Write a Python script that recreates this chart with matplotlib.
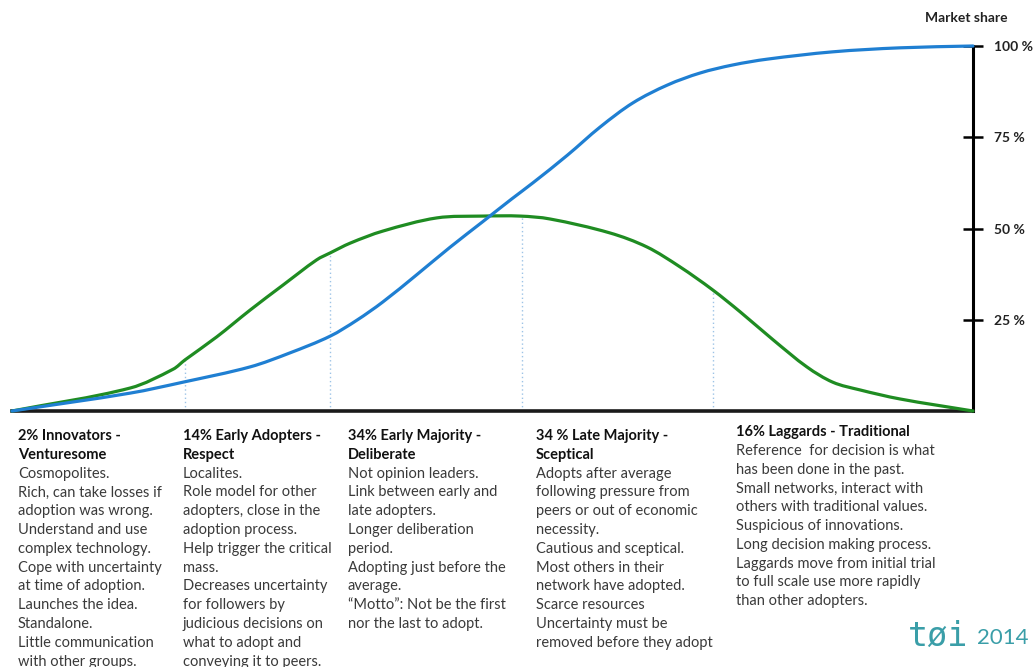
import numpy as np
import matplotlib
matplotlib.use("Agg")
import matplotlib.pyplot as plt
from matplotlib.path import Path
from matplotlib.patches import PathPatch

plt.rcParams['font.family'] = ['Lato', 'DejaVu Sans']

# time axis runs 0..100, market share in %
adopt_t = [0, 12.3, 16.8, 18.0, 21.3, 24.8, 28.2, 31.7, 33.1, 35.2, 38.6, 44.2, 49.0,
           52.9, 56.0, 62.2, 66.1, 69.5, 72.9, 75.8, 79.2, 82.7, 85.4, 88.2, 92.4, 100]
adopt_pct = [0, 6.3, 11.5, 14.0, 20.3, 27.7, 34.5, 41.4, 43.3, 46.0, 49.3, 52.9, 53.4,
             53.4, 52.6, 48.8, 44.9, 39.5, 33.2, 27.1, 19.5, 12.1, 7.9, 5.8, 3.3, 0]

share_t = [0, 12.3, 17.8, 24.8, 28.9, 33.1, 35.9, 38.6, 42.1, 45.6, 49.0, 52.0, 54.2,
           57.8, 61.2, 64.6, 68.2, 71.6, 75.0, 78.6, 85.4, 92.4, 100]
share_pct = [0, 4.9, 7.9, 12.1, 15.9, 20.5, 24.9, 29.9, 37.3, 44.9, 51.9, 58.1, 62.5,
             70.1, 77.8, 84.4, 89.3, 92.6, 94.8, 96.4, 98.4, 99.5, 100]

# group boundaries along the time axis
bounds = [18.0, 33.1, 53.1, 72.9]

y_ticks = [25, 50, 75, 100]
y_labels = ['25 %', '50 %', '75 %', '100 %']

headers = [
    ['2% Innovators -', 'Venturesome'],
    ['14% Early Adopters -', 'Respect'],
    ['34% Early Majority -', 'Deliberate'],
    ['34 % Late Majority -', 'Sceptical'],
    ['16% Laggards - Traditional'],
]
bodies = [
    ['Cosmopolites.', 'Rich, can take losses if', 'adoption was wrong.',
     'Understand and use', 'complex technology.', 'Cope with uncertainty',
     'at time of adoption.', 'Launches the idea.', 'Standalone.',
     'Little communication', 'with other groups.'],
    ['Localites.', 'Role model for other', 'adopters, close in the',
     'adoption process.', 'Help trigger the critical', 'mass.',
     'Decreases uncertainty', 'for followers by', 'judicious decisions on',
     'what to adopt and', 'conveying it to peers.'],
    ['Not opinion leaders.', 'Link between early and', 'late adopters.',
     'Longer deliberation', 'period.', 'Adopting just before the',
     'average.', '\u201cMotto\u201d: Not be the first', 'nor the last to adopt.'],
    ['Adopts after average', 'following pressure from', 'peers or out of economic',
     'necessity.', 'Cautious and sceptical.', 'Most others in their',
     'network have adopted.', 'Scarce resources', 'Uncertainty must be',
     'removed before they adopt'],
    ['Reference  for decision is what', 'has been done in the past.',
     'Small networks, interact with', 'others with traditional values.',
     'Suspicious of innovations.', 'Long decision making process.',
     'Laggards move from initial trial', 'to full scale use more rapidly',
     'than other adopters.'],
]
col_x = [18, 183, 348, 536, 736]
col_y = [436, 436, 436, 436, 432]


def smooth_path(xs, ys):
    # cubic Hermite segments through the points, drawn as bezier curves
    x = np.asarray(xs, float)
    y = np.asarray(ys, float)
    n = len(x)
    m = np.empty(n)
    m[0] = (y[1] - y[0]) / (x[1] - x[0])
    m[-1] = (y[-1] - y[-2]) / (x[-1] - x[-2])
    m[1:-1] = (y[2:] - y[:-2]) / (x[2:] - x[:-2])
    verts = [(x[0], y[0])]
    codes = [Path.MOVETO]
    for i in range(n - 1):
        h = (x[i + 1] - x[i]) / 3.0
        verts += [(x[i] + h, y[i] + m[i] * h),
                  (x[i + 1] - h, y[i + 1] - m[i + 1] * h),
                  (x[i + 1], y[i + 1])]
        codes += [Path.CURVE4] * 3
    return Path(verts, codes)


W, H = 1035, 667
fig = plt.figure(figsize=(W / 100, H / 100), dpi=100)
fig.patch.set_facecolor('white')

ax = fig.add_axes([12 / W, (H - 411) / H, (973 - 12) / W, (411 - 46) / H])
ax.set_xlim(0, 100)
ax.set_ylim(0, 100)

ax.add_patch(PathPatch(smooth_path(adopt_t, adopt_pct), fill=False, edgecolor='#1f8c22',
                       lw=2.3, capstyle='round', clip_on=False, zorder=3))
ax.add_patch(PathPatch(smooth_path(share_t, share_pct), fill=False, edgecolor='#1f7fd2',
                       lw=2.3, capstyle='round', clip_on=False, zorder=4))

ax.vlines(bounds, 0, np.interp(bounds, adopt_t, adopt_pct), colors='#9dc3e6',
          linestyles=(0, (1, 2)), lw=1.0, zorder=2)

for s in ['top', 'left']:
    ax.spines[s].set_visible(False)
ax.spines['bottom'].set_linewidth(2.6)
ax.spines['bottom'].set_color('#1a1a1a')
ax.spines['right'].set_linewidth(2.2)
ax.spines['right'].set_color('black')
ax.set_xticks([])
ax.yaxis.tick_right()
ax.set_yticks(y_ticks)
ax.set_yticklabels(y_labels, fontsize=10, fontweight='bold', color='#222222')
ax.tick_params(axis='y', direction='inout', length=14, width=1.8, pad=8)

fig.text(966 / W, 1 - 18 / H, 'Market share', ha='center', va='center',
         fontsize=10, fontweight='bold', color='#222222')

pitch = 18.8
for hx, hy, head, body in zip(col_x, col_y, headers, bodies):
    y = hy
    for line in head:
        fig.text(hx / W, 1 - y / H, line, ha='left', va='center',
                 fontsize=10.5, fontweight='bold', color='#111111')
        y += pitch
    for line in body:
        fig.text(hx / W, 1 - y / H, line, ha='left', va='center',
                 fontsize=10.5, color='#3a3a3a')
        y += pitch

fig.text(938 / W, 1 - 636 / H, 't\u00f8i', ha='center', va='center',
         fontsize=24, color='#3a9ea8', family=['DejaVu Sans Mono'])
fig.text(1003 / W, 1 - 638 / H, '2014', ha='center', va='center',
         fontsize=16, color='#3a9ea8')

fig.savefig('out.png', dpi=100)
